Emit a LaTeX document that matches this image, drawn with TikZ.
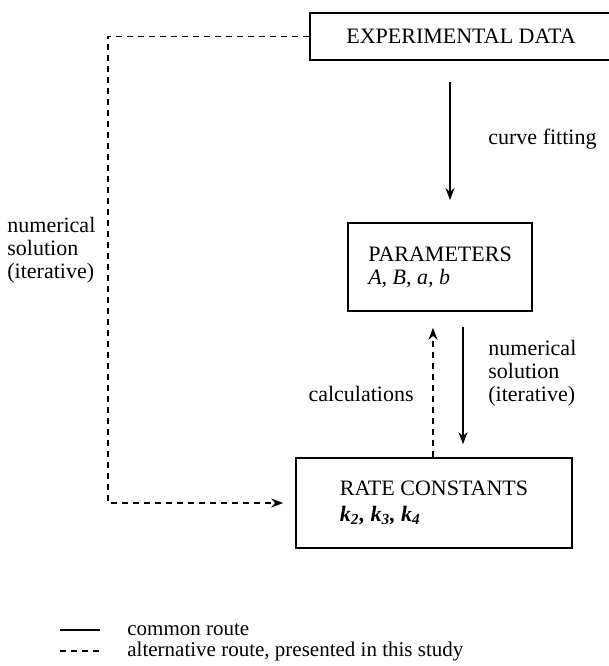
\documentclass[tikz,border=0pt]{standalone}
\usepackage{fontspec}
\setmainfont{Liberation Serif}
\usetikzlibrary{arrows.meta}

\begin{document}
\begin{tikzpicture}
[x=0.5pt,y=-0.5pt,font=\fontsize{11}{11.5}\selectfont,
  boxdecorate/.style={draw,line width=0.8pt,align=left,inner sep=0pt},
  linedecorate/.style={line width=0.8pt},
  dashdecorate/.style={line width=0.8pt,dash pattern=on 3pt off 2.5pt},
  tipdecorate/.style={-{Stealth[length=6pt,width=4.5pt]}},
  labeldecorate/.style={align=left,inner sep=0pt}]
\clip (0,0) rectangle (609,666);
%% boxes
\node (data) at (461,36.5) [boxdecorate,minimum width=151pt,minimum height=23.5pt]
  {EXPERIMENTAL DATA};
\node (param) at (440,267) [boxdecorate,minimum width=92pt,minimum height=44pt]
  {PARAMETERS\\\textit{A, B, a, b}};
\node (rate) at (434,503) [boxdecorate,minimum width=138pt,minimum height=45pt]
  {RATE CONSTANTS\\[1.5pt]{\bfseries\itshape k\textsubscript{2}, k\textsubscript{3}, k\textsubscript{4}}};
%% labels
\node (fitlabel) at (488,139) [labeldecorate,anchor=west] {curve fitting};
\node (leftlabel) at (7,250) [labeldecorate,anchor=west] {numerical\\solution\\(iterative)};
\node (rightlabel) at (488,373) [labeldecorate,anchor=west] {numerical\\solution\\(iterative)};
\node (calclabel) at (414,394) [labeldecorate,anchor=east] {calculations};
%% helper points
\coordinate (fittop) at (450,82);
\coordinate (fitbottom) at (450,200);
\coordinate (upx) at (433,0);
\coordinate (downx) at (463,0);
\coordinate (routex) at (108,0);
%% routes
\draw[linedecorate,tipdecorate] (fittop) -- (fitbottom);
\draw[dashdecorate,tipdecorate] (rate.north -| upx) -- ([yshift=-8pt]param.south -| upx);
\draw[linedecorate,tipdecorate] ([yshift=-7.5pt]param.south -| downx) -- ([yshift=6.5pt]rate.north -| downx);
\draw[dashdecorate,tipdecorate] (data.west) -- (data.west -| routex) |- ([xshift=-6pt]rate.west);
%% legend
\foreach \routestyle/\y/\routetext in {linedecorate/630/common route,
  dashdecorate/651/{alternative route, presented in this study}} {
  \draw[\routestyle] (60,\y) -- (100,\y);
  \node (legend\y) at (127,\y) [labeldecorate,anchor=west,font=\fontsize{10.5}{11}\selectfont] {\routetext};
}
\end{tikzpicture}
\end{document}
